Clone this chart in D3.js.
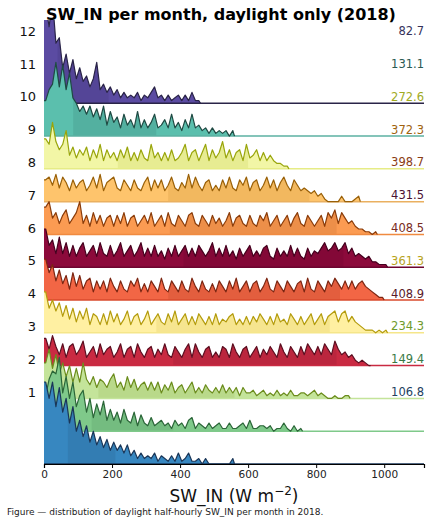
<!DOCTYPE html>
<html>
<head>
<meta charset="utf-8">
<script src="https://cdnjs.cloudflare.com/ajax/libs/d3/7.8.5/d3.min.js"></script>
<style>
  body { margin: 0; background: #fff; }
  text { font-family: "DejaVu Sans", sans-serif; }
</style>
</head>
<body>
<script>
// half-hourly daylight SW_IN counts, 10 W/m2 bins starting at 0
var m1 = [30,24,30,21,28,19,24,15,21,12, 16,10,14,8,12,7,10,6,9,5, 8,5,7,4,7,3,5,2,4,2, 3,2,4,1,3,2,1,3,1,4, 1,2,4,1,1,2,0,2,0,0, 0,0,0,0,0,2]
var m2 = [13,19,22,21,27,14,20,12,18,9, 13,15,7,12,5,10,6,11,4,8, 4,7,3,8,4,3,7,2,6,3, 2,5,2,3,4,2,3,1,4,2, 3,1,4,5,1,3,2,1,3,1, 2,3,1,1,3,1,1,2,3,1, 4,1,1,2,2,1,2,0,1,1, 3,1,0,2,0,1]
var m3 = [13,18,11,16,9,13,8,12,6,11, 6,13,7,5,8,4,7,6,4,7, 9,4,6,3,8,4,7,3,5,6, 3,6,3,6,2,5,3,6,2,4, 5,2,4,6,2,4,2,5,3,2, 4,2,5,2,4,2,4,1,4,2, 2,3,1,2,3,1,2,1,3,1, 2,1,3,1,1,2,2,1,2,3, 1,2,1,0,0,1,0,0,1,1]
var m4 = [10,6,11,7,4,8,3,7,8,4, 6,9,3,5,7,3,8,4,6,7, 3,5,8,3,6,7,3,8,5,3, 6,7,3,6,4,8,4,3,7,5, 3,6,8,3,8,5,3,6,7,3, 5,3,7,6,3,8,5,3,6,7, 3,5,7,3,6,4,7,5,3,8, 5,3,7,5,3,7,4,8,6,4, 7,4,8,6,4,9,6,4,5,3, 4,2,1,2,1,0]
var m5 = [15,9,12,8,11,6,10,5,9,4, 8,5,9,3,7,6,3,7,3,8, 4,7,3,5,8,3,6,7,3,5, 8,3,5,7,4,3,7,4,8,3, 5,7,3,6,3,7,5,3,6,3, 7,3,5,4,6,7,3,5,3,6, 3,6,4,7,5,3,6,3,7,4, 5,3,7,5,3,6,3,5,7,3, 5,7,3,6,7,8,4,7,8,4, 6,4,3,2,1,1,1,0,1,0,1]
var m6 = [15,10,13,7,11,6,9,4,10,5, 9,4,7,8,3,7,4,7,3,8, 5,3,7,4,3,7,5,8,3,6, 3,7,5,3,8,4,3,7,5,3, 7,4,3,8,5,3,7,4,3,6, 3,7,5,3,7,4,8,3,5,7, 3,6,7,3,5,8,4,3,7,5, 3,7,5,3,6,7,3,8,4,3, 7,5,3,7,5,8,6,4,7,4, 7,4,6,7,5,4,3,2,1,1]
var m7 = [14,8,10,5,11,5,9,4,8,4, 7,9,4,6,8,4,9,5,4,8, 4,6,9,4,6,8,4,6,9,4, 7,4,8,4,6,3,7,4,8,4, 6,8,4,7,4,8,6,4,6,9, 4,7,4,8,4,6,3,7,4,6, 8,4,6,4,7,8,4,3,7,4, 6,4,8,4,7,4,3,7,4,6, 5,7,9,6,7,9,6,7,9,5, 7,4,5,4,3,4,2,2,1,1,1]
var m8 = [10,12,6,8,4,7,9,4,6,8, 12,4,7,3,8,4,7,3,6,7, 3,7,4,8,3,6,7,3,5,7, 4,8,3,5,7,3,8,4,3,7, 5,3,7,8,4,3,7,5,3,7, 4,6,3,5,8,3,6,7,4,3, 7,4,3,7,5,8,3,5,7,3, 5,7,3,6,8,4,3,7,5,3, 5,7,3,8,6,9,4,8,6,4, 5,3,2,2,1,1,0,1]
var m9 = [8,9,6,10,5,9,7,4,8,5, 7,8,4,6,9,5,10,4,7,8, 9,5,4,8,6,4,8,5,4,7, 9,4,8,5,8,4,6,9,5,4, 7,5,10,5,9,6,4,7,8,4, 6,4,8,5,9,5,4,8,6,9, 4,7,8,4,6,9,5,8,4,7, 9,6,4,8,6,4,5,4,3,4, 2,3,1,0,0,0,0,2,0,0, 0,1,2]
var m10 = [11,9,17,10,7,9,14,5,8,4, 7,5,8,3,7,4,9,3,7,4, 6,3,7,4,8,3,6,3,7,4, 3,9,4,6,3,6,3,7,3,4, 6,9,3,6,7,3,6,9,3,7, 4,6,10,4,7,3,6,7,3,9, 4,5,7,3,6,3,5,3,2,2, 1,1]
var m11 = [13,17,19,27,18,26,17,23,14,12, 9,11,8,11,7,10,6,11,4,9, 5,7,3,8,4,6,3,9,3,6, 3,5,8,3,4,6,3,8,3,5, 2,6,3,8,3,4,2,3,1,3, 1,2,1,2,0,2]
var m12 = [36,28,38,22,24,13,18,11,16,9, 13,8,10,6,9,15,5,7,4,6, 3,5,2,4,2,3,2,4,1,3, 2,4,6,2,3,1,3,1,2,3, 1,3,1,4,1,1]

var binWidth = 10
var months = [1,2,3,4,5,6,7,8,9,10,11,12]
var means = [106.8, 149.4, 234.3, 408.9, 361.3, 408.5, 431.5, 398.7, 372.3, 272.6, 131.1, 82.7]
// darker shaded stretch of each ridge (W m-2)
var bandLo = [70, 140, 160, 380, 330, 365, 410, 370, 365, 217, 86, 40]
var bandHi = [210, 380, 560, 860, 840, 870, 880, 860, 780, 600, 330, 190]
var xTicks = [0, 200, 400, 600, 800, 1000]

var fills = ["#3787c0", "#7fc98a", "#c4e49a", "#c92a42", "#fff0a2", "#f26645", "#8c0a3b", "#fb9b52", "#fec46c", "#f2f6a6", "#5bbfad", "#5b4ba2"]
var lines = ["#1a3658", "#2b6638", "#6b8c1c", "#5c0e20", "#b39b0c", "#7c2612", "#45001e", "#8a3c0a", "#996008", "#99a50c", "#1f4a43", "#2a2448"]
var edges = ["#1a3658", "#7fc98a", "#c4e49a", "#c92a42", "#f5e68a", "#d84a2c", "#6d0530", "#f08a40", "#eab060", "#e6ec86", "#5bb0a2", "#2a2448"]
var valueColors = ["#23415f", "#3a7a46", "#6f9a2a", "#5a1a2a", "#b8a41c", "#7a2c22", "#4c1232", "#8a3c14", "#a0620e", "#a0aa1e", "#2a5a52", "#36325a"]

var counts = [m1, m2, m3, m4, m5, m6, m7, m8, m9, m10, m11, m12]

width = 431
height = 523
var plotLeft = 44, plotRight = 424, plotTop = 20, plotBottom = 464

svg = d3.select('body').append('svg')
  .attr('width', width)
  .attr('height', height)

x = d3.scaleLinear().domain([0, 1117]).range([plotLeft, plotRight])
// one ridge per unit, 12 counts fill one ridge spacing
y = d3.scaleLinear().domain([0, 13.54]).range([plotBottom, plotTop])
var perRidge = 12

defs = svg.append('defs')
defs.append('clipPath').attr('id', 'plot')
  .append('rect')
  .attr('x', plotLeft).attr('y', plotTop)
  .attr('width', plotRight - plotLeft).attr('height', plotBottom - plotTop)

function ridgePoints(c) {
  var pts = [{v: 0, c: c[0]}]
  c.forEach((d, i) => pts.push({v: i * binWidth + binWidth / 2, c: d}))
  pts.push({v: c.length * binWidth, c: 0})
  return pts
}

var plot = svg.append('g').attr('clip-path', 'url(#plot)')

// top ridge first so the lower ones sit over it
months.slice().reverse().forEach(function(mo) {
  var j = mo - 1
  var pts = ridgePoints(counts[j])
  var area = d3.area()
    .x(d => x(d.v))
    .y0(y(j))
    .y1(d => y(j + d.c / perRidge))
  var line = d3.line()
    .x(d => x(d.v))
    .y(d => y(j + d.c / perRidge))

  var g = plot.append('g').attr('class', 'ridge m' + mo)

  g.append('path')
    .datum(pts)
    .attr('d', area)
    .attr('fill', fills[j])

  defs.append('clipPath').attr('id', 'band' + j)
    .append('rect')
    .attr('x', x(bandLo[j])).attr('y', plotTop)
    .attr('width', x(bandHi[j]) - x(bandLo[j])).attr('height', plotBottom - plotTop)

  g.append('path')
    .datum(pts)
    .attr('d', area)
    .attr('fill', lines[j])
    .attr('fill-opacity', 0.12)
    .attr('clip-path', 'url(#band' + j + ')')

  g.append('line')
    .attr('x1', x(0)).attr('x2', plotRight)
    .attr('y1', y(j)).attr('y2', y(j))
    .attr('stroke', edges[j])
    .attr('stroke-width', 1.5)

  g.append('path')
    .datum(pts)
    .attr('d', line)
    .attr('fill', 'none')
    .attr('stroke', lines[j])
    .attr('stroke-width', 1.2)
    .attr('stroke-linejoin', 'round')
})

// x axis
var xAxis = d3.axisBottom(x).tickValues(xTicks).tickFormat(d3.format('d'))
  .tickSizeOuter(0).tickSize(4).tickPadding(3)
var ax = svg.append('g')
  .attr('transform', 'translate(0,' + plotBottom + ')')
  .call(xAxis)
ax.select('.domain').attr('stroke', '#000').attr('stroke-width', 1.2)
ax.selectAll('.tick line').attr('stroke', '#000')
ax.selectAll('.tick text')
  .style('font-family', '"DejaVu Sans", sans-serif')
  .style('font-size', '10.5px')
  .attr('fill', '#222')

// month labels and means
svg.selectAll('.mlabel')
  .data(months)
  .enter()
  .append('text')
  .attr('class', 'mlabel')
  .text(d => d)
  .attr('x', 36)
  .attr('y', d => y(d + 1.2))
  .attr('dy', '0.36em')
  .attr('text-anchor', 'end')
  .style('font-size', '13px')
  .attr('fill', '#111')

svg.selectAll('.mean')
  .data(means)
  .enter()
  .append('text')
  .attr('class', 'mean')
  .text(d => d.toFixed(1))
  .attr('x', 424)
  .attr('y', (d, i) => y(months[i] + 1.2))
  .attr('dy', '0.36em')
  .attr('text-anchor', 'end')
  .style('font-size', '11.5px')
  .attr('fill', (d, i) => valueColors[i])

svg.append('text')
  .text('SW_IN per month, daylight only (2018)')
  .attr('x', 221)
  .attr('y', 20)
  .attr('text-anchor', 'middle')
  .style('font-size', '16px')
  .style('font-weight', 'bold')
  .attr('fill', '#000')

var xl = svg.append('text')
  .attr('x', 234)
  .attr('y', 502)
  .attr('text-anchor', 'middle')
  .style('font-size', '17px')
  .attr('fill', '#111')
xl.append('tspan').text('SW_IN (W m')
xl.append('tspan').text('\u22122').attr('dy', -7).style('font-size', '12px')
xl.append('tspan').text(')').attr('dy', 7)

svg.append('text')
  .text('Figure \u2014 distribution of daylight half-hourly SW_IN per month in 2018.')
  .attr('x', 7)
  .attr('y', 515)
  .style('font-size', '9px')
  .attr('fill', '#222')
</script>
</body>
</html>
